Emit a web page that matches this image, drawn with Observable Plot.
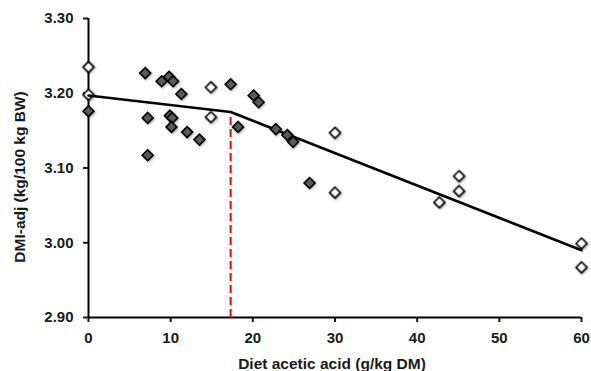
<!DOCTYPE html>
<html>
<head>
<meta charset="utf-8">
<script src="https://cdn.jsdelivr.net/npm/d3@7"></script>
<script src="https://cdn.jsdelivr.net/npm/@observablehq/plot@0.6"></script>
<style>
  html, body { margin: 0; padding: 0; background: #fff; }
  #chart svg g[aria-label="dot"] { filter: drop-shadow(1px 1px 1px rgba(0,0,0,0.35)); }
</style>
</head>
<body>
<div id="chart"></div>
<script>
// Open diamonds
const openX = [0, 0, 14.9, 14.9, 30, 30, 42.7, 45.1, 45.1, 60, 60];
const openY = [3.235, 3.198, 3.208, 3.168, 3.147, 3.067, 3.054, 3.089, 3.069, 2.999, 2.967];
// Filled (grey) diamonds
const filledX = [0, 6.9, 7.2, 7.2, 8.9, 9.8, 10.3, 9.9, 10.2, 10.1, 11.3, 12.0, 13.5, 17.3, 18.2, 20.1, 20.7, 22.8, 24.2, 24.9, 26.9];
const filledY = [3.176, 3.227, 3.167, 3.117, 3.216, 3.222, 3.216, 3.170, 3.167, 3.155, 3.199, 3.148, 3.138, 3.212, 3.155, 3.197, 3.188, 3.152, 3.144, 3.135, 3.080];
// Broken-line regression
const fitX = [0, 17.3, 60];
const fitY = [3.197, 3.175, 2.990];
const breakX = 17.3;
const breakY = 3.175;
// Ticks
const xTicks = [0, 10, 20, 30, 40, 50, 60];
const yTicks = [2.9, 3.0, 3.1, 3.2, 3.3];
const xTitle = "Diet acetic acid (g/kg DM)";
const yTitle = "DMI-adj (kg/100 kg BW)";

const openData = openX.map((x, i) => ({x, y: openY[i]}));
const filledData = filledX.map((x, i) => ({x, y: filledY[i]}));
const fitData = fitX.map((x, i) => ({x, y: fitY[i]}));

const chart = Plot.plot({
  width: 591,
  height: 371,
  marginLeft: 88,
  marginRight: 10,
  marginTop: 18,
  marginBottom: 54,
  style: {fontFamily: "'Liberation Sans', Arial, sans-serif", fontSize: "15px", fontWeight: "bold", color: "#1a1a1a", background: "#fff"},
  x: {domain: [0, 60]},
  y: {domain: [2.9, 3.3]},
  marks: [
    Plot.axisX({ticks: xTicks, tickSize: 5, tickPadding: 10, strokeWidth: 2, label: null, tickFormat: d3.format("d")}),
    Plot.axisY({ticks: yTicks, tickSize: 5, tickPadding: 10, strokeWidth: 2, label: null, tickFormat: d3.format(".2f")}),
    Plot.ruleX([0], {stroke: "black", strokeWidth: 2}),
    Plot.ruleY([2.9], {stroke: "black", strokeWidth: 2}),
    Plot.ruleX([breakX], {y1: 2.9, y2: breakY, stroke: "#ff0000", strokeWidth: 2, strokeDasharray: "8,4"}),
    Plot.dot(openData, {x: "x", y: "y", symbol: "diamond2", r: 4.9, fill: "white", stroke: "black", strokeWidth: 1.6}),
    Plot.line(fitData, {x: "x", y: "y", stroke: "black", strokeWidth: 2.6}),
    Plot.dot(filledData, {x: "x", y: "y", symbol: "diamond2", r: 4.9, fill: "#595959", stroke: "black", strokeWidth: 1.6}),
    Plot.text([xTitle], {frameAnchor: "bottom", textAnchor: "middle", lineAnchor: "top", dx: -3, dy: 40, fontSize: 15.5, fontWeight: "bold", fill: "#1a1a1a"}),
    Plot.text([yTitle], {frameAnchor: "left", textAnchor: "middle", rotate: -90, lineAnchor: "middle", dx: -68, dy: 9, fontSize: 15.5, fontWeight: "bold", fill: "#1a1a1a"})
  ]
});
document.getElementById("chart").appendChild(chart);
</script>
</body>
</html>
